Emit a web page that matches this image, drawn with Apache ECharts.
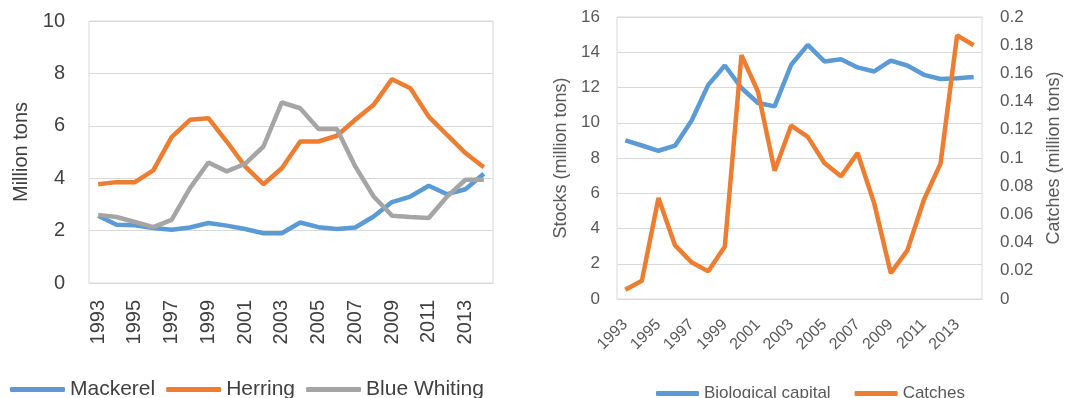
<!DOCTYPE html>
<html><head><meta charset="utf-8">
<script src="https://cdn.jsdelivr.net/npm/echarts@6/dist/echarts.min.js"></script>
<style>html,body{margin:0;padding:0;background:#fff}#c{width:1089px;height:398px}</style>
</head><body><div id="c"></div>
<script>
const years = ['1993','1994','1995','1996','1997','1998','1999','2000','2001','2002','2003','2004','2005','2006','2007','2008','2009','2010','2011','2012','2013','2014'];
const mackerel = [2.57,2.22,2.2,2.1,2.03,2.12,2.29,2.19,2.06,1.9,1.9,2.31,2.13,2.06,2.12,2.54,3.09,3.3,3.71,3.39,3.58,4.17];
const herring = [3.77,3.85,3.85,4.3,5.57,6.23,6.29,5.4,4.45,3.77,4.38,5.4,5.4,5.62,6.23,6.8,7.78,7.43,6.35,5.65,4.96,4.42];
const blueWhiting = [2.6,2.52,2.33,2.13,2.41,3.62,4.6,4.26,4.55,5.21,6.89,6.67,5.88,5.88,4.45,3.3,2.57,2.52,2.48,3.3,3.94,3.94];
const bioCapital = [9.0,8.71,8.41,8.7,10.13,12.15,13.25,11.97,11.12,10.93,13.29,14.42,13.48,13.6,13.14,12.91,13.53,13.25,12.72,12.48,12.53,12.59];
const catches = [0.0066,0.013,0.0716,0.038,0.026,0.0196,0.0373,0.173,0.147,0.091,0.123,0.115,0.0964,0.087,0.1035,0.068,0.0184,0.0345,0.0704,0.096,0.187,0.18];

const FONT = 'Liberation Sans';
const BLUE = '#5b9bd5', ORANGE = '#ed7d31', GRAY = '#a5a5a5';
const GRID = '#d9d9d9';
const chart = echarts.init(document.getElementById('c'), null, {renderer: 'canvas'});

function line(name, data, color, xi, yi) {
  return {name, type: 'line', data, xAxisIndex: xi, yAxisIndex: yi, symbol: 'none',
    lineStyle: {color, width: 4.5}, itemStyle: {color}, animation: false};
}

chart.setOption({
  animation: false,
  textStyle: {fontFamily: FONT},
  grid: [
    {left: 89, right: 596, top: 21, bottom: 115, show: true, borderColor: GRID, borderWidth: 1},
    {left: 617, right: 107, top: 17, bottom: 99, show: true, borderColor: GRID, borderWidth: 1}
  ],
  legend: [
    {data: ['Mackerel','Herring','Blue Whiting'], left: 5, top: 374, icon: 'roundRect', itemWidth: 55, itemHeight: 5, itemGap: 11,
     textStyle: {fontFamily: FONT, fontSize: 21, color: '#404040'}},
    {data: ['Biological capital','Catches'], left: 651, top: 380, icon: 'roundRect', itemWidth: 43, itemHeight: 5, itemGap: 24,
     textStyle: {fontFamily: FONT, fontSize: 17, color: '#595959'}}
  ],
  xAxis: [
    {type: 'category', gridIndex: 0, data: years, boundaryGap: true,
     axisTick: {show: false}, axisLine: {lineStyle: {color: GRID}},
     axisLabel: {rotate: 90, interval: 1, margin: 17, fontSize: 20, color: '#404040', fontFamily: FONT}},
    {type: 'category', gridIndex: 1, data: years, boundaryGap: true,
     axisTick: {show: false}, axisLine: {lineStyle: {color: GRID}},
     axisLabel: {rotate: 45, interval: 1, margin: 23, fontSize: 16, color: '#595959', fontFamily: FONT}}
  ],
  yAxis: [
    {type: 'value', gridIndex: 0, min: 0, max: 10, interval: 2,
     axisLine: {show: false}, axisTick: {show: false},
     splitLine: {lineStyle: {color: GRID}},
     axisLabel: {margin: 24, fontSize: 20, color: '#404040', fontFamily: FONT},
     name: 'Million tons', nameLocation: 'middle', nameRotate: 90, nameGap: 58,
     nameTextStyle: {fontSize: 20, color: '#404040', fontFamily: FONT}},
    {type: 'value', gridIndex: 1, min: 0, max: 16, interval: 2,
     axisLine: {show: false}, axisTick: {show: false},
     splitLine: {lineStyle: {color: GRID}},
     axisLabel: {margin: 17, fontSize: 17, color: '#595959', fontFamily: FONT},
     name: 'Stocks (million tons)', nameLocation: 'middle', nameRotate: 90, nameGap: 47,
     nameTextStyle: {fontSize: 18, color: '#595959', fontFamily: FONT}},
    {type: 'value', gridIndex: 1, position: 'right', min: 0, max: 0.2, interval: 0.02,
     axisLine: {show: false}, axisTick: {show: false}, splitLine: {show: false},
     axisLabel: {margin: 18, fontSize: 17, color: '#595959', fontFamily: FONT},
     name: 'Catches (million tons)', nameLocation: 'middle', nameRotate: 90, nameGap: 63,
     nameTextStyle: {fontSize: 18, color: '#595959', fontFamily: FONT}}
  ],
  series: [
    line('Mackerel', mackerel, BLUE, 0, 0),
    line('Herring', herring, ORANGE, 0, 0),
    line('Blue Whiting', blueWhiting, GRAY, 0, 0),
    line('Biological capital', bioCapital, BLUE, 1, 1),
    line('Catches', catches, ORANGE, 1, 2)
  ]
});
</script></body></html>
